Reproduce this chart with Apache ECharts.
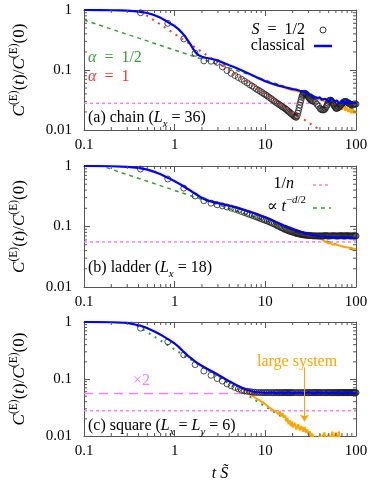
<!DOCTYPE html>
<html><head><meta charset="utf-8">
<script src="https://cdn.jsdelivr.net/npm/echarts@6/dist/echarts.min.js"></script>
<style>html,body{margin:0;padding:0;background:#fff}#c{width:374px;height:483px}</style>
</head><body><div id="c"></div>
<script>
// ---------- data ----------
const xTickLabels = ['0.1', '1', '10', '100'];
const yTickLabels = ['0.01', '0.1', '1'];
const xMinorTicks = [0.2,0.3,0.4,0.5,0.6,0.7,0.8,0.9,2,3,4,5,6,7,8,9,20,30,40,50,60,70,80,90];
const yMinorTicks = [0.02,0.03,0.04,0.05,0.06,0.07,0.08,0.09,0.2,0.3,0.4,0.5,0.6,0.7,0.8,0.9];

// panel (a) chain
const quantumA = [[0.42,0.90],[0.84,0.60],[1.26,0.33],[1.68,0.19],[2.10,0.142],[2.52,0.140],[2.94,0.134],[3.36,0.113],[3.78,0.098],[4.20,0.088],[4.62,0.081],[5.04,0.075],[5.46,0.070],[5.88,0.065],[6.30,0.061],[6.72,0.057],[7.14,0.054],[7.56,0.051],[7.98,0.048],[8.40,0.046],[8.82,0.044],[9.24,0.042],[9.66,0.040],[10.1,0.0385],[10.5,0.037],[11,0.035],[11.5,0.0335],[12,0.032],[12.5,0.0305],[13,0.029],[13.5,0.028],[14,0.027],[14.5,0.026],[15,0.025],[15.5,0.0242],[16,0.0235],[16.5,0.0228],[17,0.022],[17.5,0.0212],[18,0.0205],[18.5,0.0198],[19,0.019],[19.5,0.0185],[20,0.018],[20.5,0.0174],[21,0.0168],[21.5,0.0164],[22,0.0163],[22.4,0.0172],[22.8,0.019],[23.2,0.021],[23.6,0.0235],[24,0.026],[24.4,0.029],[24.8,0.032],[25.2,0.035],[25.6,0.0375],[26,0.039],[26.5,0.0405],[27,0.041],[27.5,0.0408],[28,0.040],[28.5,0.039],[29,0.038],[29.5,0.0365],[30,0.035],[30.5,0.034],[31,0.033],[31.5,0.032],[32,0.031],[33,0.0305],[34,0.030],[35.5,0.029],[37,0.027],[38.5,0.025],[40,0.023],[41,0.0222],[42,0.0218],[43,0.0216],[44,0.0216],[45,0.022],[46,0.023],[47,0.0245],[48,0.026],[49,0.028],[50,0.030],[51,0.031],[52,0.0316],[53,0.031],[54,0.030],[55,0.0285],[56,0.027],[57,0.026],[58,0.025],[59,0.024],[60,0.023],[61,0.023],[62,0.023],[63.5,0.0235],[65,0.024],[66.5,0.025],[68,0.026],[69.5,0.027],[71,0.028],[72.5,0.029],[74,0.0295],[75.5,0.030],[77,0.030],[78.5,0.0295],[80,0.029],[81.5,0.0285],[83,0.028],[84.5,0.0275],[86,0.027],[88,0.0265],[90,0.026],[92,0.0265],[94,0.027],[96,0.027],[98,0.027],[100,0.027]];
const classicalA = [[0.1,1.0],[0.15,0.997],[0.2,0.99],[0.25,0.985],[0.3,0.975],[0.35,0.96],[0.4,0.94],[0.5,0.89],[0.6,0.82],[0.7,0.74],[0.8,0.66],[0.9,0.59],[1.0,0.54],[1.1,0.48],[1.2,0.42],[1.3,0.365],[1.4,0.31],[1.5,0.265],[1.6,0.225],[1.7,0.197],[1.8,0.18],[1.9,0.172],[2.0,0.166],[2.2,0.16],[2.5,0.154],[2.8,0.148],[3.2,0.138],[3.6,0.128],[4,0.12],[4.5,0.112],[5,0.105],[6,0.093],[7,0.083],[8,0.076],[9,0.07],[10,0.065],[11,0.062],[12,0.059],[13,0.057],[14,0.055],[15,0.054],[16,0.052],[17,0.051],[18,0.050],[19,0.049],[20,0.048],[21,0.048],[22,0.047],[23,0.046],[24,0.045],[25,0.044],[26,0.044],[27,0.043],[28,0.042],[29,0.040],[30,0.039],[31,0.038],[32,0.039],[33,0.037],[34,0.036],[35,0.037],[36,0.035],[38,0.034],[40,0.035],[42,0.032],[44,0.031],[46,0.033],[48,0.031],[50,0.030],[52,0.032],[54,0.034],[56,0.032],[58,0.030],[60,0.029],[62,0.031],[64,0.028],[66,0.030],[68,0.028],[70,0.029],[72,0.031],[74,0.029],[76,0.027],[78,0.029],[80,0.031],[82,0.028],[84,0.029],[86,0.027],[88,0.029],[90,0.028],[92,0.030],[94,0.028],[96,0.029],[98,0.027],[100,0.028]];
const largeA = [[8,0.074],[10,0.064],[12,0.058],[14,0.054],[16,0.051],[18,0.048],[20,0.046],[22,0.045],[24,0.043],[26,0.042],[28,0.040],[30,0.038],[32,0.036],[34,0.035],[36,0.034],[38,0.033],[40,0.032],[43,0.031],[46,0.029],[49,0.030],[52,0.027],[55,0.028],[58,0.025],[61,0.027],[64,0.023],[67,0.026],[70,0.022],[73,0.025],[76,0.021],[79,0.024],[82,0.020],[85,0.023],[88,0.019],[91,0.022],[94,0.019],[97,0.021],[100,0.019]];
const powHalfA = [[0.1,0.68],[100,0.0215]];
const powOneA = [[0.42,0.95],[40,0.01]];
const invNA = [[0.1,0.0278],[100,0.0278]];

// panel (b) ladder
const quantumB = [[0.42,0.89],[0.84,0.61],[1.26,0.43],[1.68,0.32],[2.10,0.267],[2.52,0.243],[2.94,0.229],[3.36,0.219],[3.78,0.210],[4.20,0.201],[4.62,0.193],[5.04,0.185],[5.46,0.177],[5.88,0.170],[6.30,0.164],[6.72,0.158],[7.14,0.153],[7.56,0.148],[7.98,0.144],[8.40,0.140],[8.82,0.136],[9.24,0.132],[9.66,0.129],[10.1,0.126],[10.5,0.123],[11,0.12],[11.5,0.116],[12,0.113],[12.5,0.11],[13,0.107],[13.5,0.104],[14,0.101],[14.5,0.099],[15,0.096],[15.5,0.094],[16,0.092],[16.5,0.09],[17,0.088],[17.5,0.087],[18,0.085],[18.5,0.084],[19,0.083],[19.5,0.082],[20,0.081],[20.5,0.080],[21,0.079],[21.5,0.078],[22,0.077],[22.5,0.0765],[23,0.076],[23.5,0.0755],[24,0.075],[24.5,0.0745],[25,0.074],[25.5,0.0735],[26,0.073],[26.7,0.0725],[27.5,0.072],[28.2,0.0718],[29,0.0715],[29.7,0.0712],[30.5,0.071],[31.2,0.0708],[32,0.0705],[33,0.0702],[34,0.070],[35,0.070],[36,0.070],[37,0.0698],[38,0.0695],[39,0.0698],[40,0.070],[41,0.0698],[42,0.0695],[43,0.0698],[44,0.070],[45,0.0702],[46,0.0705],[47,0.0702],[48,0.070],[49,0.0698],[50,0.0695],[51.5,0.0698],[53,0.070],[54.5,0.0702],[56,0.0705],[57.5,0.0702],[59,0.070],[60.5,0.0698],[62,0.0695],[63.5,0.0698],[65,0.070],[66.5,0.0702],[68,0.0705],[69.5,0.0702],[71,0.070],[72.5,0.0698],[74,0.0695],[75.5,0.0698],[77,0.070],[78.5,0.0702],[80,0.0705],[82,0.0702],[84,0.070],[86,0.0698],[88,0.0695],[90,0.0698],[92,0.070],[94,0.0702],[96,0.0705],[98,0.0702],[100,0.070]];
const classicalB = [[0.1,1.0],[0.2,0.99],[0.3,0.97],[0.4,0.93],[0.5,0.87],[0.6,0.8],[0.7,0.73],[0.86,0.63],[1.0,0.56],[1.15,0.5],[1.3,0.445],[1.5,0.39],[1.7,0.345],[1.9,0.31],[2.1,0.285],[2.5,0.26],[3,0.243],[3.5,0.23],[4,0.22],[4.8,0.205],[5.5,0.193],[6.5,0.178],[7.9,0.162],[9,0.15],[10,0.142],[11.5,0.13],[12.9,0.12],[14.5,0.111],[16,0.104],[17.8,0.098],[20,0.092],[22,0.087],[24.6,0.082],[27,0.078],[30,0.075],[33,0.073],[36,0.071],[40,0.069],[45,0.068],[50,0.067],[55,0.066],[60,0.066],[65,0.065],[70,0.066],[75,0.065],[80,0.066],[85,0.065],[90,0.065],[95,0.064],[100,0.064]];
const largeB = [[2.5,0.262],[3,0.247],[3.5,0.235],[4,0.224],[5,0.207],[6,0.19],[7,0.176],[8,0.163],[10,0.144],[12,0.127],[14,0.115],[16,0.105],[18,0.098],[20,0.092],[22,0.087],[25,0.082],[28,0.077],[31,0.073],[34,0.070],[37,0.067],[40,0.064],[43,0.060],[46,0.056],[49,0.053],[52,0.054],[55,0.050],[58,0.051],[61,0.048],[64,0.049],[67,0.046],[70,0.047],[73,0.045],[76,0.046],[79,0.044],[82,0.045],[85,0.043],[88,0.044],[91,0.042],[94,0.043],[97,0.041],[100,0.042]];
const powB = [[0.177,0.94],[100,0.0395]];
const invNB = [[0.1,0.0556],[100,0.0556]];

// panel (c) square
const quantumC = [[0.42,0.78],[0.84,0.45],[1.26,0.265],[1.68,0.179],[2.10,0.138],[2.52,0.116],[2.94,0.102],[3.36,0.092],[3.78,0.082],[4.20,0.076],[4.62,0.071],[5.04,0.067],[5.46,0.064],[5.88,0.062],[6.30,0.061],[6.72,0.060],[7.14,0.059],[7.56,0.0585],[7.98,0.058],[8.4,0.058],[8.82,0.0578],[9.24,0.0578],[9.66,0.0577],[10.1,0.0577],[10.5,0.0578],[11,0.0578],[11.5,0.0577],[12,0.0576],[12.5,0.0577],[13,0.0578],[13.5,0.0578],[14,0.0577],[14.5,0.0576],[15,0.0576],[15.5,0.0577],[16,0.0578],[16.5,0.0578],[17,0.0577],[17.5,0.0577],[18,0.0578],[18.5,0.0577],[19,0.0576],[19.5,0.0576],[20,0.0577],[21,0.0578],[22,0.0578],[23,0.0577],[24,0.0576],[25,0.0576],[26,0.0577],[27,0.0578],[28,0.0578],[29,0.0577],[30,0.0577],[31,0.0576],[32,0.0576],[33,0.0577],[34,0.0578],[35,0.0578],[36,0.0577],[37,0.0576],[38,0.0576],[39,0.0577],[40,0.0578],[41.5,0.0578],[43,0.0577],[44.5,0.0576],[46,0.0576],[47.5,0.0577],[49,0.0578],[50.5,0.0578],[52,0.0577],[53.5,0.0576],[55,0.0576],[56.5,0.0577],[58,0.0578],[59.5,0.0578],[61,0.0577],[62.5,0.0576],[64,0.0576],[65.5,0.0577],[67,0.0578],[68.5,0.0578],[70,0.0577],[71.5,0.0576],[73,0.0576],[74.5,0.0577],[76,0.0578],[78,0.0578],[79,0.0577],[80.5,0.0576],[82,0.0576],[83.5,0.0577],[85,0.0578],[86.5,0.0578],[88,0.0577],[89.5,0.0576],[91,0.0576],[92.5,0.0577],[94,0.0578],[95.5,0.0578],[97,0.0577],[98.5,0.0576],[100,0.0576]];
const classicalC = [[0.1,1.0],[0.2,0.99],[0.3,0.965],[0.42,0.86],[0.5,0.78],[0.6,0.68],[0.7,0.6],[0.86,0.49],[1.0,0.42],[1.1,0.37],[1.23,0.31],[1.4,0.255],[1.55,0.225],[1.7,0.2],[1.9,0.178],[2.1,0.162],[2.5,0.14],[2.9,0.123],[3.5,0.103],[4,0.091],[4.8,0.078],[5.5,0.07],[6.2,0.065],[7,0.061],[7.9,0.059],[9,0.058],[10,0.057],[11,0.0575],[12,0.058],[13,0.0565],[14,0.057],[15,0.058],[16,0.0565],[17,0.057],[18,0.0585],[19,0.057],[20,0.056],[22,0.0575],[24,0.058],[26,0.0565],[28,0.057],[30,0.0585],[32,0.057],[34,0.056],[36,0.0575],[38,0.058],[40,0.057],[43,0.0565],[46,0.058],[49,0.057],[52,0.0565],[55,0.058],[58,0.057],[61,0.056],[64,0.0575],[67,0.058],[70,0.0565],[73,0.057],[76,0.058],[79,0.057],[82,0.0565],[85,0.057],[88,0.058],[91,0.057],[94,0.056],[97,0.058],[100,0.0575]];
const largeC = [[2.5,0.141],[3,0.12],[3.5,0.103],[4,0.092],[4.8,0.079],[5.5,0.068],[6,0.062],[6.5,0.056],[7,0.052],[7.5,0.049],[8,0.045],[8.5,0.043],[9,0.040],[9.5,0.039],[10,0.036],[10.5,0.035],[11,0.032],[11.5,0.033],[12,0.029],[12.5,0.031],[13,0.027],[13.5,0.028],[14,0.024],[14.5,0.027],[15,0.022],[15.5,0.025],[16,0.021],[16.5,0.023],[17,0.018],[17.5,0.021],[18,0.016],[18.5,0.019],[19,0.015],[19.5,0.018],[20,0.014],[21,0.017],[22,0.013],[23,0.016],[24,0.0125],[25,0.015],[26,0.012],[27,0.0145],[28,0.0115],[29,0.013],[30,0.0105],[31,0.012],[32,0.0095],[33,0.011],[34,0.009],[36,0.0095],[38,0.0085],[40,0.0105],[41,0.009],[43,0.0095],[45,0.0115],[46,0.0085],[48,0.009],[50,0.0105],[51,0.008],[53,0.0095],[55,0.012],[56,0.0085],[58,0.009],[60,0.0115],[61,0.008],[63,0.0095],[65,0.012],[66,0.008]];
const powC = [[0.33,1.0],[33,0.01]];
const invNC = [[0.1,0.0278],[100,0.0278]];
const twiceInvNC = [[0.1,0.0556],[100,0.0556]];
const arrowC = [[27,0.16],[27,0.018]];

// ---------- styling ----------
const FONT = '"Liberation Serif","DejaVu Serif",serif';
const BLUE = '#0000ff', ORANGE = '#ffa500', PINK = '#ee82ee', GREEN = '#3a9a3a', RED = '#ff3030', FRAME = '#555';
function RICH(color, fs) {
  fs = fs || 16;
  const s = fs * 0.68;
  return {
    r:   {fontFamily: FONT, fontSize: fs, color: color, fill: color, lineHeight: 24},
    i:   {fontFamily: FONT, fontSize: fs, fontStyle: 'italic', color: color, fill: color, lineHeight: 24},
    sup: {fontFamily: FONT, fontSize: s, color: color, fill: color, lineHeight: 12, verticalAlign: 'top'},
    supi:{fontFamily: FONT, fontSize: s, fontStyle: 'italic', color: color, fill: color, lineHeight: 12, verticalAlign: 'top'},
    sub: {fontFamily: FONT, fontSize: s, fontStyle: 'italic', color: color, fill: color, lineHeight: 12, verticalAlign: 'bottom'}
  };
}
const grids = [
  {left: 75, right: 18, top: 10, height: 120},
  {left: 75, right: 18, top: 166, height: 121},
  {left: 75, right: 18, top: 322, height: 117}
];
function lab(arr, minExp) { return v => arr[Math.round(Math.log10(v)) - minExp] || ''; }
const xAxes = [], yAxes = [];
grids.forEach((g, k) => {
  ['bottom', 'top'].forEach((pos, j) => {
    xAxes.push({
      type: 'log', logBase: 10, min: 0.1, max: 100, gridIndex: k, position: pos,
      axisLine: {show: true, onZero: false, lineStyle: {color: FRAME, width: 1}},
      axisTick: {show: true, inside: true, length: 6, lineStyle: {color: FRAME}},
      axisLabel: {show: j === 0, fontFamily: FONT, fontSize: 15, color: '#000', margin: 8, formatter: lab(xTickLabels, -1)},
      splitLine: {show: false},
      name: (k === 2 && j === 0) ? '{i|t}{r| }{i|S\u0303}' : '',
      nameLocation: 'middle', nameGap: 26,
      nameTextStyle: {rich: RICH('#000', 16)}
    });
  });
  ['left', 'right'].forEach((pos, j) => {
    yAxes.push({
      type: 'log', logBase: 10, min: 0.01, max: 1, gridIndex: k, position: pos,
      axisLine: {show: true, onZero: false, lineStyle: {color: FRAME, width: 1}},
      axisTick: {show: true, inside: true, length: 6, lineStyle: {color: FRAME}},
      axisLabel: {show: j === 0, fontFamily: FONT, fontSize: 15, color: '#000', margin: 12, formatter: lab(yTickLabels, -2)},
      splitLine: {show: false},
      name: j === 0 ? '{i|C}{sup|(E)}{r|(}{i|t}{r|)/}{i|C}{sup|(E)}{r|(0)}' : '',
      nameLocation: 'middle', nameGap: 52, nameRotate: 90,
      nameTextStyle: {rich: RICH('#000', 17)}
    });
  });
});

function line(k, data, color, width, dash, z) {
  return {type: 'line', xAxisIndex: 2 * k, yAxisIndex: 2 * k, data: data, showSymbol: false, symbol: 'none',
    lineStyle: {color: color, width: width, type: dash || 'solid'}, z: z || 2, silent: true, animation: false};
}
function circles(k, data) {
  return {type: 'scatter', xAxisIndex: 2 * k, yAxisIndex: 2 * k, data: data, symbol: 'circle', symbolSize: 6,
    itemStyle: {color: 'rgba(0,0,0,0)', borderColor: '#222', borderWidth: 1}, z: 3, silent: true, animation: false};
}
function minorTicks(k, dir, values) {
  return {type: 'custom', xAxisIndex: 2 * k, yAxisIndex: 2 * k, silent: true, animation: false, z: 5, clip: false,
    data: values.map(v => dir === 'x' ? [v, 1] : [1, v]),
    renderItem: (params, api) => {
      const cs = params.coordSys;
      const p = api.coord([api.value(0), api.value(1)]);
      const L = 3;
      const segs = dir === 'x'
        ? [[p[0], cs.y + cs.height, p[0], cs.y + cs.height - L], [p[0], cs.y, p[0], cs.y + L]]
        : [[cs.x, p[1], cs.x + L, p[1]], [cs.x + cs.width, p[1], cs.x + cs.width - L, p[1]]];
      return {type: 'group', children: segs.map(s => ({type: 'line', shape: {x1: s[0], y1: s[1], x2: s[2], y2: s[3]},
        style: {stroke: FRAME, lineWidth: 1}}))};
    }};
}

const series = [];
// panel a
series.push(line(0, invNA, PINK, 1.5, [3, 3]));
series.push(line(0, powHalfA, GREEN, 1.5, [4, 4]));
series.push(line(0, largeA, ORANGE, 2));
series.push(circles(0, quantumA));
series.push(line(0, powOneA, RED, 2, [2, 5], 4));
series.push(line(0, classicalA, BLUE, 2.2, 'solid', 4));
// panel b
series.push(line(1, invNB, PINK, 1.5, [3, 3]));
series.push(line(1, powB, GREEN, 1.5, [4, 4]));
series.push(line(1, largeB, ORANGE, 2));
series.push(circles(1, quantumB));
series.push(line(1, classicalB, BLUE, 2.2, 'solid', 4));
// panel c
series.push(line(2, invNC, PINK, 1.5, [3, 3]));
series.push(line(2, twiceInvNC, PINK, 1.5, [9, 6]));
series.push(line(2, powC, GREEN, 2, [2, 5]));
const lc = line(2, largeC, ORANGE, 2);
lc.markLine = {silent: true, symbol: ['none', 'arrow'], symbolSize: 7, animation: false,
  lineStyle: {color: ORANGE, width: 1, type: 'solid'}, label: {show: false},
  data: [[{coord: arrowC[0]}, {coord: arrowC[1]}]]};
series.push(lc);
series.push(circles(2, quantumC));
series.push(line(2, classicalC, BLUE, 2.2, 'solid', 4));
// minor ticks
[0, 1, 2].forEach(k => { series.push(minorTicks(k, 'x', xMinorTicks)); series.push(minorTicks(k, 'y', yMinorTicks)); });

function txt(x, y, text, color, align) {
  return {type: 'text', x: x, y: y, z: 100, silent: true,
    style: {text: text, rich: RICH(color, 16), fill: color, align: align || 'left', verticalAlign: 'middle'}};
}
const SP = '\u2002';
const graphic = [
  // panel a key
  txt(305, 30, '{i|S}{r|' + SP + '=' + SP + '1/2}', '#000', 'right'),
  {type: 'circle', shape: {cx: 323, cy: 30, r: 3}, style: {fill: 'none', stroke: '#333', lineWidth: 1}, z: 100},
  txt(305, 46, '{r|classical}', '#000', 'right'),
  {type: 'line', shape: {x1: 314, y1: 46, x2: 332, y2: 46}, style: {stroke: BLUE, lineWidth: 2.5}, z: 100},
  txt(88, 58, '{i|α}{r|' + SP + '=' + SP + '1/2}', GREEN),
  txt(88, 77, '{i|α}{r|' + SP + '=' + SP + '1}', RED),
  txt(88, 118, '{r|(a) chain (}{i|L}{sub|x}{r| = 36)}', '#000'),
  // panel b key
  txt(294, 184, '{r|1/}{i|n}', '#000', 'right'),
  {type: 'line', shape: {x1: 313, y1: 185, x2: 331, y2: 185}, style: {stroke: PINK, lineWidth: 1.5, lineDash: [3, 3]}, z: 100},
  txt(306, 207, '{r|∝ }{i|t}{sup|−}{supi|d}{sup|/2}', '#000', 'right'),
  {type: 'line', shape: {x1: 313, y1: 208, x2: 331, y2: 208}, style: {stroke: GREEN, lineWidth: 1.5, lineDash: [4, 4]}, z: 100},
  txt(88, 268, '{r|(b) ladder (}{i|L}{sub|x}{r| = 18)}', '#000'),
  // panel c
  txt(133, 381, '{r|×2}', PINK),
  txt(257, 362, '{r|large system}', ORANGE),
  txt(88, 426, '{r|(c) square (}{i|L}{sub|x}{r| = }{i|L}{sub|y}{r| = 6)}', '#000')
];

const chart = echarts.init(document.getElementById('c'), null, {renderer: 'canvas'});
chart.setOption({
  animation: false,
  backgroundColor: '#fff',
  grid: grids,
  xAxis: xAxes,
  yAxis: yAxes,
  series: series,
  graphic: {elements: graphic}
});
</script>
</body></html>
